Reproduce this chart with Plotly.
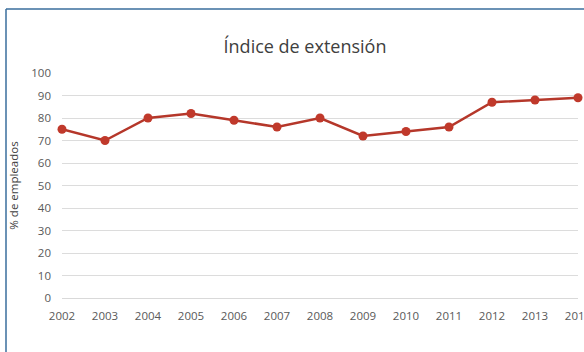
import plotly.graph_objects as go

years = [2002, 2003, 2004, 2005, 2006, 2007, 2008, 2009, 2010, 2011, 2012, 2013, 2014]
values = [75, 70, 80, 82, 79, 76, 80, 72, 74, 76, 87, 88, 89]
y_ticks = [0, 10, 20, 30, 40, 50, 60, 70, 80, 90, 100]

L, R, T, B = 62, 6, 73, 54
W, H = 584, 352
pw, ph = W - L - R, H - T - B

fig = go.Figure()
fig.add_trace(go.Scatter(
    x=years, y=values, mode="lines+markers",
    line=dict(color="#b5372a", width=2.5),
    marker=dict(color="#c0392b", size=9),
    cliponaxis=False, showlegend=False,
))

fig.update_layout(
    width=W, height=H,
    margin=dict(l=L, r=R, t=T, b=B, autoexpand=False),
    paper_bgcolor="white", plot_bgcolor="white",
    font=dict(family="Open Sans, Liberation Sans, sans-serif", color="#595959", size=11),
    title=dict(text="Índice de extensión", x=(305 - L) / pw, xref="paper", xanchor="center",
               y=1 - 47 / H, yanchor="middle",
               font=dict(size=18, color="#404040")),
    xaxis=dict(range=[2002, 2014], tickmode="array", tickvals=years,
               ticktext=[str(y) for y in years], showgrid=False, zeroline=False,
               showline=True, linecolor="#d9d9d9", linewidth=1, ticks="",
               ticklabelstandoff=7, ticklabeloverflow="allow", automargin=False,
               tickfont=dict(size=11.5, color="#595959")),
    yaxis=dict(range=[0, 100], tickmode="array", tickvals=y_ticks,
               showgrid=True, gridcolor="#dcdcdc", gridwidth=1, zeroline=False,
               showline=False, ticks="", ticklabelstandoff=10, automargin=False,
               tickfont=dict(size=11.5, color="#595959"),
               title=dict(text="% de empleados", font=dict(size=11.5, color="#404040"), standoff=10)),
    shapes=[
        dict(type="line", xref="paper", yref="paper",
             x0=(6 - L) / pw, x1=(6 - L) / pw, y0=1 + (T - 9) / ph, y1=-(B + 5) / ph,
             line=dict(color="#3a6e9c", width=1.5)),
        dict(type="line", xref="paper", yref="paper",
             x0=(6 - L) / pw, x1=(W + 5 - L) / pw, y0=1 + (T - 9) / ph, y1=1 + (T - 9) / ph,
             line=dict(color="#3a6e9c", width=1.5)),
    ],
)

fig.write_html("out.html")
